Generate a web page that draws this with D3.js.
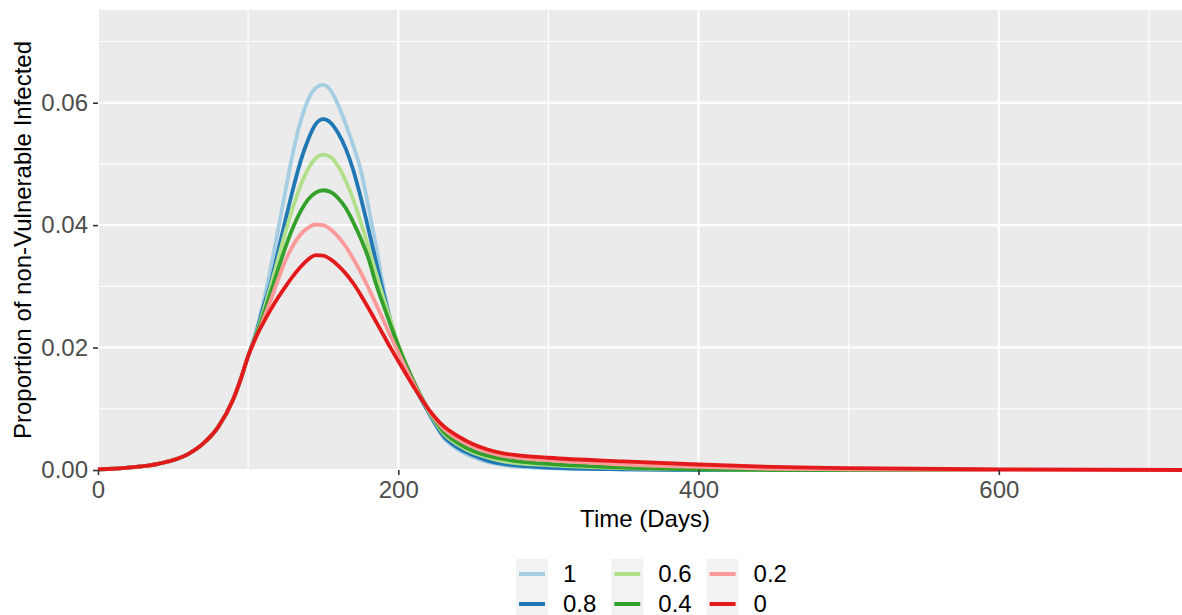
<!DOCTYPE html>
<html>
<head>
<meta charset="utf-8">
<script src="https://cdn.jsdelivr.net/npm/d3@7"></script>
<style>
  body { margin: 0; background: #fff; }
  svg text { font-family: "Liberation Sans", Arial, sans-serif; }
</style>
</head>
<body>
<svg id="chart" width="1182" height="615"></svg>
<script>
const days = [0, 20, 40, 60, 70, 80, 90, 95, 100,
  105, 110, 115, 120, 125, 130, 135, 140, 145, 150, 155, 160,
  165, 170, 175, 180, 185, 190, 195, 200,
  210, 220, 230, 240, 250, 260, 270, 280,
  300, 350, 400, 450, 500, 600, 722];

//Shared rise before the curves split
const rise = [0.0001, 0.0004, 0.0010, 0.0026, 0.0043, 0.0070, 0.0115, 0.0148, 0.0186];

//One array per legend level
const v1 = rise.concat([0.0224, 0.0272, 0.0330, 0.0393, 0.0458, 0.0520, 0.0570, 0.0605, 0.0624, 0.0629, 0.0620, 0.0596,
  0.0565, 0.0530, 0.0490, 0.0432, 0.0368, 0.0300, 0.0243, 0.0198,
  0.0140, 0.0094, 0.0053, 0.0033, 0.0021, 0.0013, 0.0008, 0.0005,
  0.0003, 0.0001, 0, 0, 0, 0, 0]);
const v08 = rise.concat([0.0221, 0.0265, 0.0305, 0.0358, 0.0410, 0.0460, 0.0505, 0.0540, 0.0565, 0.0573, 0.0567, 0.0550,
  0.0525, 0.0490, 0.0445, 0.0395, 0.0342, 0.0290, 0.0242, 0.0199,
  0.0141, 0.0095, 0.0056, 0.0036, 0.0024, 0.0015, 0.0010, 0.0007,
  0.0004, 0.0001, 0, 0, 0, 0, 0]);
const v06 = rise.concat([0.0219, 0.0258, 0.0300, 0.0345, 0.0390, 0.0430, 0.0465, 0.0492, 0.0509, 0.0515, 0.0511, 0.0496,
  0.0472, 0.0442, 0.0405, 0.0365, 0.0323, 0.0282, 0.0243, 0.0205,
  0.0144, 0.0097, 0.0060, 0.0041, 0.0028, 0.0020, 0.0014, 0.0011,
  0.0008, 0.0003, 0.0001, 0, 0, 0, 0]);
const v04 = rise.concat([0.0217, 0.0252, 0.0290, 0.0328, 0.0365, 0.0397, 0.0423, 0.0442, 0.0453, 0.0457, 0.0454, 0.0444,
  0.0428, 0.0405, 0.0378, 0.0347, 0.0305, 0.0270, 0.0236, 0.0203,
  0.0146, 0.0099, 0.0063, 0.0044, 0.0031, 0.0023, 0.0018, 0.0014,
  0.0010, 0.0004, 0.0001, 0, 0, 0, 0]);
const v02 = rise.concat([0.0214, 0.0245, 0.0277, 0.0311, 0.0343, 0.0367, 0.0385, 0.0396, 0.0401, 0.0400, 0.0393, 0.0381,
  0.0365, 0.0345, 0.0323, 0.0298, 0.0272, 0.0245, 0.0218, 0.0192,
  0.0142, 0.0099, 0.0068, 0.0050, 0.0038, 0.0029, 0.0023, 0.0020,
  0.0016, 0.0009, 0.0005, 0.0002, 0.0001, 0, 0]);
const v0 = rise.concat([0.0216, 0.0240, 0.0262, 0.0282, 0.0300, 0.0317, 0.0332, 0.0344, 0.0351, 0.0350, 0.0344, 0.0334,
  0.0321, 0.0305, 0.0286, 0.0265, 0.0243, 0.0221, 0.0199, 0.0178,
  0.0137, 0.0100, 0.0072, 0.0055, 0.0042, 0.0033, 0.0027, 0.0024,
  0.0020, 0.0014, 0.0009, 0.0005, 0.0003, 0.0001, 0]);

const levels = ["1", "0.8", "0.6", "0.4", "0.2", "0"];
const seriesValues = [v1, v08, v06, v04, v02, v0];
const colors = ["#A6CEE3", "#1F78B4", "#B2DF8A", "#33A02C", "#FB9A99", "#E31A1C"];

const xTicks = [0, 200, 400, 600];
const xMinor = [100, 300, 500, 700];
const yTicks = [0, 0.02, 0.04, 0.06];
const yMinor = [0.01, 0.03, 0.05, 0.07];

//Panel placement
let svg = d3.select("#chart"),
    panel = {left: 98, right: 1182, top: 10, bottom: 470};

let x = d3.scaleLinear().domain([0, 722]).range([panel.left, panel.right]),
    y = d3.scaleLinear().domain([0, 0.07514]).range([panel.bottom, panel.top]);

//Grey panel
svg.append("rect")
   .attr("x", panel.left).attr("y", panel.top)
   .attr("width", panel.right - panel.left)
   .attr("height", panel.bottom - panel.top)
   .attr("fill", "#EBEBEB");

//Grid lines, minor first then major
let grid = svg.append("g");
grid.selectAll(".yminor").data(yMinor).enter().append("line")
    .attr("x1", panel.left).attr("x2", panel.right)
    .attr("y1", d => y(d)).attr("y2", d => y(d))
    .attr("stroke", "#fff").attr("stroke-width", 1.1);
grid.selectAll(".xminor").data(xMinor).enter().append("line")
    .attr("y1", panel.top).attr("y2", panel.bottom)
    .attr("x1", d => x(d)).attr("x2", d => x(d))
    .attr("stroke", "#fff").attr("stroke-width", 1.1);
grid.selectAll(".ymajor").data(yTicks).enter().append("line")
    .attr("x1", panel.left).attr("x2", panel.right)
    .attr("y1", d => y(d)).attr("y2", d => y(d))
    .attr("stroke", "#fff").attr("stroke-width", 2.1);
grid.selectAll(".xmajor").data(xTicks).enter().append("line")
    .attr("y1", panel.top).attr("y2", panel.bottom)
    .attr("x1", d => x(d)).attr("x2", d => x(d))
    .attr("stroke", "#fff").attr("stroke-width", 2.1);

//Curves
let line = d3.line()
    .x((d, i) => x(days[i]))
    .y(d => y(d))
    .curve(d3.curveMonotoneX);

svg.append("g").selectAll("path")
   .data(seriesValues)
   .enter().append("path")
   .attr("d", d => line(d))
   .attr("fill", "none")
   .attr("stroke", (d, i) => colors[i])
   .attr("stroke-width", 3.8)
   .attr("stroke-linejoin", "round");

//Axes
let xAxis = d3.axisBottom(x).tickValues(xTicks).tickSize(5).tickPadding(6).tickFormat(d3.format("d"));
let yAxis = d3.axisLeft(y).tickValues(yTicks).tickSize(5).tickPadding(5).tickFormat(d3.format(".2f"));

let gx = svg.append("g")
    .attr("transform", "translate(0," + panel.bottom + ")")
    .call(xAxis);
let gy = svg.append("g")
    .attr("transform", "translate(" + panel.left + ",0)")
    .call(yAxis);

[gx, gy].forEach(g => {
  g.select(".domain").remove();
  g.selectAll(".tick line").attr("stroke", "#333333").attr("stroke-width", 1.6);
  g.selectAll(".tick text")
   .attr("fill", "#4D4D4D")
   .style("font-size", "24px");
});

//Axis titles
svg.append("text")
   .attr("x", 645)
   .attr("y", 527)
   .attr("text-anchor", "middle")
   .style("font-size", "24px")
   .attr("fill", "#000")
   .text("Time (Days)");

svg.append("text")
   .attr("transform", "translate(31," + (panel.top + panel.bottom) / 2 + ") rotate(-90)")
   .attr("text-anchor", "middle")
   .style("font-size", "24px")
   .attr("fill", "#000")
   .text("Proportion of non-Vulnerable Infected");

//Legend: 3 columns, 2 rows, filled by column
let legend = svg.append("g").attr("transform", "translate(516,559)");
let keyW = 32, keyH = 30, colStep = 95.3;
let items = legend.selectAll("g")
    .data(levels)
    .enter().append("g")
    .attr("transform", (d, i) => "translate(" + (Math.floor(i / 2) * colStep) + "," + ((i % 2) * keyH) + ")");

items.append("rect")
     .attr("width", keyW).attr("height", keyH)
     .attr("fill", "#F2F2F2");
items.append("line")
     .attr("x1", 3).attr("x2", keyW - 3)
     .attr("y1", keyH / 2).attr("y2", keyH / 2)
     .attr("stroke", (d, i) => colors[i])
     .attr("stroke-width", 4);
items.append("text")
     .attr("x", keyW + 15)
     .attr("y", keyH / 2 + 8)
     .style("font-size", "24px")
     .attr("fill", "#000")
     .text(d => d);
</script>
</body>
</html>
